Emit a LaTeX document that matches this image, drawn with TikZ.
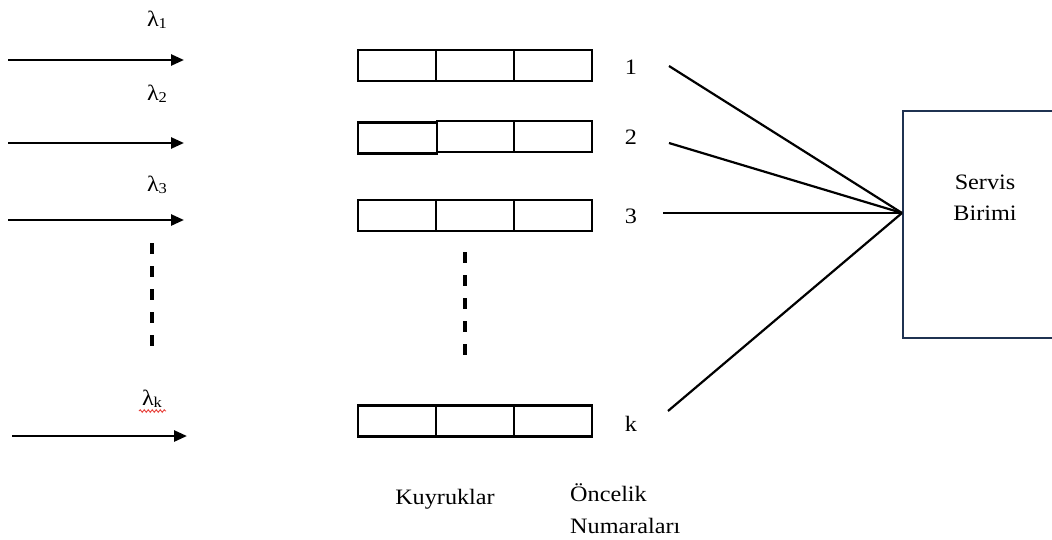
\documentclass[tikz,border=0pt]{standalone}
\usepackage{fontspec}
\setmainfont{Liberation Serif}[FakeStretch=1.1]
\usetikzlibrary{arrows.meta,decorations.pathmorphing}
\definecolor{boxblue}{HTML}{1F3251}
\definecolor{spellred}{HTML}{E8403A}
\tikzset{
  lbl/.style={inner sep=0pt, font=\fontsize{22}{31}\selectfont},
  inflow/.style={line width=2.6pt, -{Triangle[length=13pt,width=11pt]}},
  cell/.style={draw, line width=2.2pt, minimum height=31pt, inner sep=0pt},
  link/.style={line width=2.2pt},
  dots/.style={line width=3.6pt, dash pattern=on 11pt off 12pt},
}
\newcommand{\lam}[1]{λ\raisebox{-0.12em}{\fontsize{15}{15}\selectfont #1}}
\begin{document}
\begin{tikzpicture}[x=1pt,y=-1pt]
  \useasboundingbox (0,0) rectangle (1052,539);
  \clip (0,0) rectangle (1052,539);

  % arrival streams
  \coordinate (s1) at (8,60);   \coordinate (e1) at (184,60);
  \coordinate (s2) at (8,143);  \coordinate (e2) at (184,143);
  \coordinate (s3) at (8,220);  \coordinate (e3) at (184,220);
  \coordinate (sk) at (12,436); \coordinate (ek) at (187,436);
  \draw[inflow] (s1) -- (e1);
  \draw[inflow] (s2) -- (e2);
  \draw[inflow] (s3) -- (e3);
  \draw[inflow] (sk) -- (ek);

  \node[lbl, anchor=base] (l1) at (157,26)  {\lam{1}};
  \node[lbl, anchor=base] (l2) at (157,100) {\lam{2}};
  \node[lbl, anchor=base] (l3) at (157,191) {\lam{3}};
  \node[lbl, anchor=base] (lk) at (152,405) {\lam{k}};
  \draw[spellred, line width=0.9pt,
        decorate, decoration={snake, amplitude=1.3pt, segment length=4pt}]
        (139,411) -- (166,411);

  % continuation marks
  \coordinate (d1a) at (152,243); \coordinate (d1b) at (152,348);
  \coordinate (d2a) at (465,252); \coordinate (d2b) at (465,356);
  \draw[dots] (d1a) -- (d1b);
  \draw[dots] (d2a) -- (d2b);

  % queues
  \node[cell, minimum width=78pt]  (q1a) at (397,65.5) {};
  \node[cell, minimum width=77.5pt] (q1b) at (475,65.5) {};
  \node[cell, minimum width=78.5pt] (q1c) at (553,65.5) {};

  \node[cell, minimum width=79pt]  (q2a) at (397.5,138) {};
  \node[cell, minimum width=77pt]  (q2b) at (475.5,136.2) {};
  \node[cell, minimum width=78.5pt] (q2c) at (553,136.2) {};

  \node[cell, minimum width=78pt]  (q3a) at (397,215.5) {};
  \node[cell, minimum width=77.5pt] (q3b) at (475,215.5) {};
  \node[cell, minimum width=78.5pt] (q3c) at (553,215.5) {};

  \node[cell, minimum width=78pt]  (qka) at (397,421) {};
  \node[cell, minimum width=77.5pt] (qkb) at (475,421) {};
  \node[cell, minimum width=78.5pt] (qkc) at (553,421) {};

  % priority numbers
  \node[lbl] (n1) at (631,67)  {1};
  \node[lbl] (n2) at (631,137) {2};
  \node[lbl] (n3) at (631,216) {3};
  \node[lbl] (nk) at (631,424) {k};

  % service unit
  \node[draw=boxblue, line width=2pt, minimum width=177pt, minimum height=227pt,
        inner sep=0pt] (srv) at (991.5,224.5) {};
  \node[lbl, align=center, anchor=base] (srvtxt) at (985,220) {Servis\\Birimi};

  \coordinate (c1) at (669,66);
  \coordinate (c2) at (669,143);
  \coordinate (c3) at (663,213);
  \coordinate (ck) at (668,411);
  \draw[link] (c1) -- (srv.west |- 0,213);
  \draw[link] (c2) -- (srv.west |- 0,213);
  \draw[link] (c3) -- (srv.west |- 0,213);
  \draw[link] (ck) -- (srv.west |- 0,213);

  % captions
  \node[lbl, anchor=base] (cap1) at (445,504) {Kuyruklar};
  \node[lbl, anchor=base west, align=left] (cap2) at (570,533) {Öncelik\\[1pt]Numaraları};
\end{tikzpicture}
\end{document}
